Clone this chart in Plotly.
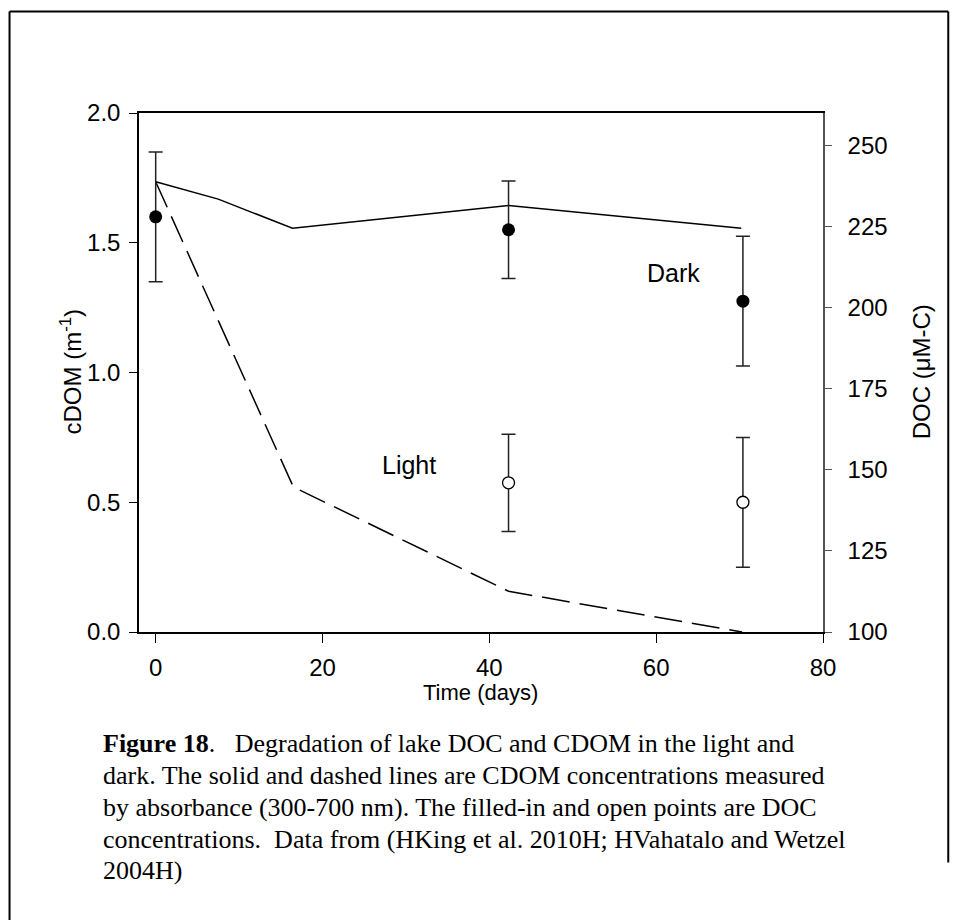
import plotly.graph_objects as go

# ---- data ----
t_cdom_dark = [0, 7.5, 16.4, 42.3, 70.2]
cdom_dark = [1.735, 1.668, 1.556, 1.644, 1.556]

t_cdom_light = [0, 16.5, 42.3, 70.3]
cdom_light = [1.735, 0.559, 0.157, 0.0]

t_doc = [0, 42.3, 70.4]
doc_dark = [228, 224, 202]
doc_dark_err = [20, 15, 20]

t_doc_light = [42.3, 70.4]
doc_light = [146, 140]
doc_light_err = [15, 20]

x_ticks = [0, 20, 40, 60, 80]
y_ticks = [0.0, 0.5, 1.0, 1.5, 2.0]
y2_ticks = [100, 125, 150, 175, 200, 225, 250]

W, H = 961, 920
L, R, T, B = 138.5, 822.7, 113.3, 631.7


def px(x):
    return (x - L) / (R - L)


def py(y):
    return (B - y) / (B - T)


SANS = "Liberation Sans, Arial, sans-serif"
SERIF = "Liberation Serif, Times New Roman, serif"
FS = 24

fig = go.Figure()

fig.add_trace(go.Scatter(x=t_cdom_dark, y=cdom_dark, mode="lines",
                         line=dict(color="black", width=1.5), yaxis="y",
                         showlegend=False))
fig.add_trace(go.Scatter(x=t_cdom_light, y=cdom_light, mode="lines",
                         line=dict(color="black", width=1.5, dash="28px,10px"),
                         yaxis="y", showlegend=False))
fig.add_trace(go.Scatter(x=t_doc, y=doc_dark, mode="markers", yaxis="y2",
                         marker=dict(color="black", size=13, symbol="circle"),
                         error_y=dict(type="data", array=doc_dark_err, visible=True,
                                      color="#222", thickness=1.5, width=7),
                         showlegend=False))
fig.add_trace(go.Scatter(x=t_doc_light, y=doc_light, mode="markers", yaxis="y2",
                         marker=dict(color="white", size=12, symbol="circle",
                                     line=dict(color="black", width=1.3)),
                         error_y=dict(type="data", array=doc_light_err, visible=True,
                                      color="#222", thickness=1.5, width=7),
                         showlegend=False))

tickfont = dict(family=SANS, size=FS, color="black")

fig.update_layout(
    width=W, height=H,
    margin=dict(l=L, r=W - R, t=T, b=H - B, pad=0),
    paper_bgcolor="white", plot_bgcolor="white",
    xaxis=dict(range=[-2.0, 80], tickvals=x_ticks, ticks="outside", ticklen=9,
               tickwidth=1.3, tickcolor="black", showline=True, linecolor="black",
               linewidth=1.5, mirror=True, showgrid=False, zeroline=False,
               tickfont=tickfont, ticklabelstandoff=4),
    yaxis=dict(range=[0, 2.0], tickvals=y_ticks, tickformat=".1f", ticks="outside",
               ticklen=8, tickwidth=1.3, tickcolor="black", showline=True,
               linecolor="black", linewidth=1.5, showgrid=False, zeroline=False,
               tickfont=tickfont, ticklabelstandoff=4),
    yaxis2=dict(range=[100, 260], tickvals=y2_ticks, overlaying="y", side="right",
                ticks="outside", ticklen=7, tickwidth=1.3, tickcolor="#555",
                showline=True, linecolor="#555", linewidth=1.5, showgrid=False,
                zeroline=False, tickfont=tickfont, ticklabelstandoff=11),
    showlegend=False,
)

ann = []
ann.append(dict(x=px(70), y=py(372), xref="paper", yref="paper",
                text="cDOM (m<sup>-1</sup>)", textangle=-90, showarrow=False,
                font=dict(family=SANS, size=FS, color="black"),
                xanchor="center", yanchor="middle"))
ann.append(dict(x=px(922), y=py(372), xref="paper", yref="paper",
                text="DOC (\u03bcM-C)", textangle=-90, showarrow=False,
                font=dict(family=SANS, size=FS, color="black"),
                xanchor="center", yanchor="middle"))
ann.append(dict(x=px(480), y=py(692), xref="paper", yref="paper",
                text="Time (days)", showarrow=False,
                font=dict(family=SANS, size=22, color="black"),
                xanchor="center", yanchor="middle"))
ann.append(dict(x=px(673), y=py(273), xref="paper", yref="paper",
                text="Dark", showarrow=False,
                font=dict(family=SANS, size=25, color="black"),
                xanchor="center", yanchor="middle"))
ann.append(dict(x=px(409), y=py(465), xref="paper", yref="paper",
                text="Light", showarrow=False,
                font=dict(family=SANS, size=25, color="black"),
                xanchor="center", yanchor="middle"))

nb = "\u00a0"
caption = [
    "<b>Figure 18</b>." + nb * 3 + "Degradation of lake DOC and CDOM in the light and",
    "dark. The solid and dashed lines are CDOM concentrations measured",
    "by absorbance (300-700 nm). The filled-in and open points are DOC",
    "concentrations." + nb * 2 + "Data from (HKing et al. 2010H; HVahatalo and Wetzel",
    "2004H)",
]
cap_y = [743, 775, 807, 839, 870]
for line, yy in zip(caption, cap_y):
    ann.append(dict(x=px(100), y=py(yy), xref="paper", yref="paper",
                    text=line, showarrow=False,
                    font=dict(family=SERIF, size=26, color="black"),
                    xanchor="left", yanchor="middle"))
fig.update_layout(annotations=ann)

shapes = [
    dict(type="line", xref="paper", yref="paper", x0=px(9), x1=px(9),
         y0=py(12), y1=py(925), line=dict(color="black", width=2)),
    dict(type="line", xref="paper", yref="paper", x0=px(9), x1=px(948),
         y0=py(12), y1=py(12), line=dict(color="black", width=2)),
    dict(type="line", xref="paper", yref="paper", x0=px(948), x1=px(948),
         y0=py(12), y1=py(862), line=dict(color="black", width=2)),
]
fig.update_layout(shapes=shapes)

fig.write_html("out.html")
